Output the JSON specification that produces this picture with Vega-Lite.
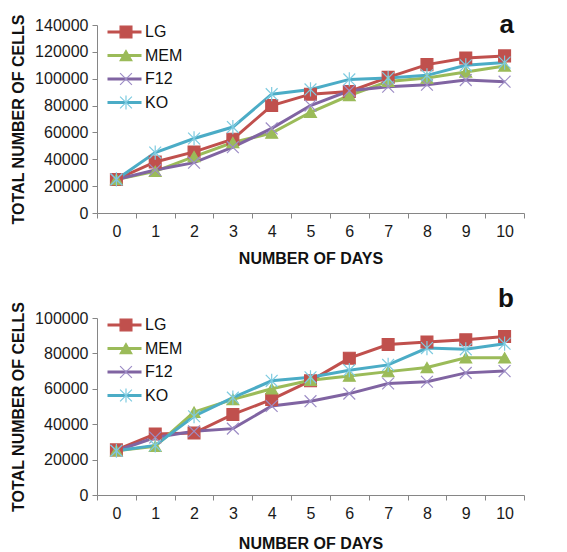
{
  "$schema": "https://vega.github.io/schema/vega-lite/v6.json",
  "background": "white",
  "padding": {"left": 10, "top": 11, "right": 10, "bottom": 0},
  "spacing": 20,
  "config": {
    "view": {"stroke": null},
    "font": "Liberation Sans",
    "axis": {
      "grid": false,
      "domainColor": "#868686",
      "tickColor": "#868686",
      "tickSize": 5,
      "labelFont": "Liberation Sans",
      "labelFontSize": 16,
      "labelColor": "#1a1a1a",
      "titleFont": "Liberation Sans",
      "titleFontSize": 16,
      "titleFontWeight": "bold",
      "titleColor": "#111111"
    }
  },
  "datasets": {
    "panelA": [
      {"day": 0, "series": "LG", "cells": 25000}, {"day": 1, "series": "LG", "cells": 38000}, {"day": 2, "series": "LG", "cells": 45500}, {"day": 3, "series": "LG", "cells": 55000}, {"day": 4, "series": "LG", "cells": 80000}, {"day": 5, "series": "LG", "cells": 88500}, {"day": 6, "series": "LG", "cells": 90500}, {"day": 7, "series": "LG", "cells": 101000}, {"day": 8, "series": "LG", "cells": 110500}, {"day": 9, "series": "LG", "cells": 115500}, {"day": 10, "series": "LG", "cells": 117000},
      {"day": 0, "series": "MEM", "cells": 25000}, {"day": 1, "series": "MEM", "cells": 31000}, {"day": 2, "series": "MEM", "cells": 42000}, {"day": 3, "series": "MEM", "cells": 52500}, {"day": 4, "series": "MEM", "cells": 59500}, {"day": 5, "series": "MEM", "cells": 75000}, {"day": 6, "series": "MEM", "cells": 87500}, {"day": 7, "series": "MEM", "cells": 98000}, {"day": 8, "series": "MEM", "cells": 100500}, {"day": 9, "series": "MEM", "cells": 105000}, {"day": 10, "series": "MEM", "cells": 109500},
      {"day": 0, "series": "F12", "cells": 25000}, {"day": 1, "series": "F12", "cells": 32000}, {"day": 2, "series": "F12", "cells": 37500}, {"day": 3, "series": "F12", "cells": 49000}, {"day": 4, "series": "F12", "cells": 63000}, {"day": 5, "series": "F12", "cells": 80000}, {"day": 6, "series": "F12", "cells": 91000}, {"day": 7, "series": "F12", "cells": 94000}, {"day": 8, "series": "F12", "cells": 95500}, {"day": 9, "series": "F12", "cells": 99000}, {"day": 10, "series": "F12", "cells": 97800},
      {"day": 0, "series": "KO", "cells": 25000}, {"day": 1, "series": "KO", "cells": 45000}, {"day": 2, "series": "KO", "cells": 55500}, {"day": 3, "series": "KO", "cells": 64000}, {"day": 4, "series": "KO", "cells": 88500}, {"day": 5, "series": "KO", "cells": 92000}, {"day": 6, "series": "KO", "cells": 99500}, {"day": 7, "series": "KO", "cells": 100500}, {"day": 8, "series": "KO", "cells": 102500}, {"day": 9, "series": "KO", "cells": 110000}, {"day": 10, "series": "KO", "cells": 112000}
    ],
    "panelB": [
      {"day": 0, "series": "LG", "cells": 25500}, {"day": 1, "series": "LG", "cells": 34500}, {"day": 2, "series": "LG", "cells": 35000}, {"day": 3, "series": "LG", "cells": 45500}, {"day": 4, "series": "LG", "cells": 54000}, {"day": 5, "series": "LG", "cells": 64500}, {"day": 6, "series": "LG", "cells": 77300}, {"day": 7, "series": "LG", "cells": 85000}, {"day": 8, "series": "LG", "cells": 86500}, {"day": 9, "series": "LG", "cells": 87700}, {"day": 10, "series": "LG", "cells": 89500},
      {"day": 0, "series": "MEM", "cells": 25000}, {"day": 1, "series": "MEM", "cells": 27500}, {"day": 2, "series": "MEM", "cells": 46800}, {"day": 3, "series": "MEM", "cells": 54000}, {"day": 4, "series": "MEM", "cells": 60000}, {"day": 5, "series": "MEM", "cells": 64800}, {"day": 6, "series": "MEM", "cells": 67200}, {"day": 7, "series": "MEM", "cells": 69700}, {"day": 8, "series": "MEM", "cells": 72000}, {"day": 9, "series": "MEM", "cells": 77500}, {"day": 10, "series": "MEM", "cells": 77500},
      {"day": 0, "series": "F12", "cells": 25000}, {"day": 1, "series": "F12", "cells": 32500}, {"day": 2, "series": "F12", "cells": 36000}, {"day": 3, "series": "F12", "cells": 37500}, {"day": 4, "series": "F12", "cells": 50300}, {"day": 5, "series": "F12", "cells": 53000}, {"day": 6, "series": "F12", "cells": 57300}, {"day": 7, "series": "F12", "cells": 63000}, {"day": 8, "series": "F12", "cells": 64000}, {"day": 9, "series": "F12", "cells": 69000}, {"day": 10, "series": "F12", "cells": 70000},
      {"day": 0, "series": "KO", "cells": 25000}, {"day": 1, "series": "KO", "cells": 28000}, {"day": 2, "series": "KO", "cells": 44500}, {"day": 3, "series": "KO", "cells": 55000}, {"day": 4, "series": "KO", "cells": 64500}, {"day": 5, "series": "KO", "cells": 66500}, {"day": 6, "series": "KO", "cells": 70500}, {"day": 7, "series": "KO", "cells": 73500}, {"day": 8, "series": "KO", "cells": 83000}, {"day": 9, "series": "KO", "cells": 82300}, {"day": 10, "series": "KO", "cells": 85500}
    ]
  },
  "resolve": {
    "scale": {"color": "independent", "fill": "independent", "stroke": "independent", "shape": "independent"},
    "legend": {"color": "independent", "fill": "independent", "stroke": "independent", "shape": "independent"}
  },
  "vconcat": [
    {
      "width": 427,
      "height": 188,
      "title": {"text": "a", "anchor": "end", "frame": "group", "fontSize": 26, "fontWeight": "bold", "offset": -26, "dx": -10, "color": "#111111", "font": "Liberation Sans"},
      "data": {"name": "panelA"},
      "encoding": {
        "x": {"field": "day", "type": "ordinal", "bandPosition": 0.5,
              "scale": {"type": "band", "paddingInner": 0, "paddingOuter": 0},
              "axis": {"title": "NUMBER OF DAYS", "labelAngle": 0, "tickBand": "extent", "labelPadding": 5, "titlePadding": 11}},
        "y": {"field": "cells", "type": "quantitative",
              "scale": {"domain": [0, 140000]},
              "axis": {"title": "TOTAL NUMBER  OF CELLS", "values": [0, 20000, 40000, 60000, 80000, 100000, 120000, 140000], "format": "d", "labelPadding": 4, "titlePadding": 8}}
      },
      "layer": [
        {
          "mark": {"type": "line", "strokeWidth": 3},
          "encoding": {
            "color": {"field": "series", "type": "nominal", "sort": ["LG", "MEM", "F12", "KO"],
                      "scale": {"range": ["#C0504D", "#9BBB59", "#8064A2", "#4BACC6"]},
                      "legend": {"orient": "none", "legendX": 9, "legendY": -4, "title": null, "padding": 0,
                                 "symbolSize": 1156, "symbolStrokeWidth": 3, "clipHeight": 22, "rowPadding": 1.5, "labelOffset": 2,
                                 "labelFont": "Liberation Sans", "labelFontSize": 16, "labelColor": "#111111"}}
          }
        },
        {
          "mark": {"type": "point", "filled": true, "opacity": 1, "strokeWidth": 1.2, "size": 140},
          "encoding": {
            "shape": {"field": "series", "type": "nominal",
                      "scale": {"domain": ["LG", "MEM", "F12", "KO"], "range": ["square", "triangle-up", "M-1,-1L1,1M-1,1L1,-1", "M-1,-1L1,1M-1,1L1,-1M0,-1.2V1.2"]},
                      "legend": {"orient": "none", "legendX": 21, "legendY": -4, "title": null, "padding": 0, "symbolSize": 140, "symbolStrokeWidth": 1.2, "clipHeight": 22, "rowPadding": 1.5, "labelExpr": "''", "labelFontSize": 16}},
            "fill": {"field": "series", "type": "nominal",
                     "scale": {"domain": ["LG", "MEM", "F12", "KO"], "range": ["#C0504D", "#9BBB59", "transparent", "transparent"]},
                     "legend": {"orient": "none", "legendX": 21, "legendY": -4, "title": null, "padding": 0, "symbolSize": 140, "symbolStrokeWidth": 1.2, "clipHeight": 22, "rowPadding": 1.5, "labelExpr": "''", "labelFontSize": 16}},
            "stroke": {"field": "series", "type": "nominal",
                       "scale": {"domain": ["LG", "MEM", "F12", "KO"], "range": ["#C0504D", "#9BBB59", "#9D8DC6", "#7ECBE0"]},
                       "legend": {"orient": "none", "legendX": 21, "legendY": -4, "title": null, "padding": 0, "symbolSize": 140, "symbolStrokeWidth": 1.2, "clipHeight": 22, "rowPadding": 1.5, "labelExpr": "''", "labelFontSize": 16}}
          }
        }
      ]
    },
    {
      "width": 427,
      "height": 177,
      "title": {"text": "b", "anchor": "end", "frame": "group", "fontSize": 26, "fontWeight": "bold", "offset": -11, "dx": -10, "color": "#111111", "font": "Liberation Sans"},
      "data": {"name": "panelB"},
      "encoding": {
        "x": {"field": "day", "type": "ordinal", "bandPosition": 0.5,
              "scale": {"type": "band", "paddingInner": 0, "paddingOuter": 0},
              "axis": {"title": "NUMBER OF DAYS", "labelAngle": 0, "tickBand": "extent", "labelPadding": 5, "titlePadding": 14}},
        "y": {"field": "cells", "type": "quantitative",
              "scale": {"domain": [0, 100000]},
              "axis": {"title": "TOTAL NUMBER OF CELLS", "values": [0, 20000, 40000, 60000, 80000, 100000], "format": "d", "labelPadding": 4, "titlePadding": 8}}
      },
      "layer": [
        {
          "mark": {"type": "line", "strokeWidth": 3},
          "encoding": {
            "color": {"field": "series", "type": "nominal", "sort": ["LG", "MEM", "F12", "KO"],
                      "scale": {"range": ["#C0504D", "#9BBB59", "#8064A2", "#4BACC6"]},
                      "legend": {"orient": "none", "legendX": 9, "legendY": -4, "title": null, "padding": 0,
                                 "symbolSize": 1156, "symbolStrokeWidth": 3, "clipHeight": 22, "rowPadding": 1.5, "labelOffset": 2,
                                 "labelFont": "Liberation Sans", "labelFontSize": 16, "labelColor": "#111111"}}
          }
        },
        {
          "mark": {"type": "point", "filled": true, "opacity": 1, "strokeWidth": 1.2, "size": 140},
          "encoding": {
            "shape": {"field": "series", "type": "nominal",
                      "scale": {"domain": ["LG", "MEM", "F12", "KO"], "range": ["square", "triangle-up", "M-1,-1L1,1M-1,1L1,-1", "M-1,-1L1,1M-1,1L1,-1M0,-1.2V1.2"]},
                      "legend": {"orient": "none", "legendX": 21, "legendY": -4, "title": null, "padding": 0, "symbolSize": 140, "symbolStrokeWidth": 1.2, "clipHeight": 22, "rowPadding": 1.5, "labelExpr": "''", "labelFontSize": 16}},
            "fill": {"field": "series", "type": "nominal",
                     "scale": {"domain": ["LG", "MEM", "F12", "KO"], "range": ["#C0504D", "#9BBB59", "transparent", "transparent"]},
                     "legend": {"orient": "none", "legendX": 21, "legendY": -4, "title": null, "padding": 0, "symbolSize": 140, "symbolStrokeWidth": 1.2, "clipHeight": 22, "rowPadding": 1.5, "labelExpr": "''", "labelFontSize": 16}},
            "stroke": {"field": "series", "type": "nominal",
                       "scale": {"domain": ["LG", "MEM", "F12", "KO"], "range": ["#C0504D", "#9BBB59", "#9D8DC6", "#7ECBE0"]},
                       "legend": {"orient": "none", "legendX": 21, "legendY": -4, "title": null, "padding": 0, "symbolSize": 140, "symbolStrokeWidth": 1.2, "clipHeight": 22, "rowPadding": 1.5, "labelExpr": "''", "labelFontSize": 16}}
          }
        }
      ]
    }
  ]
}
